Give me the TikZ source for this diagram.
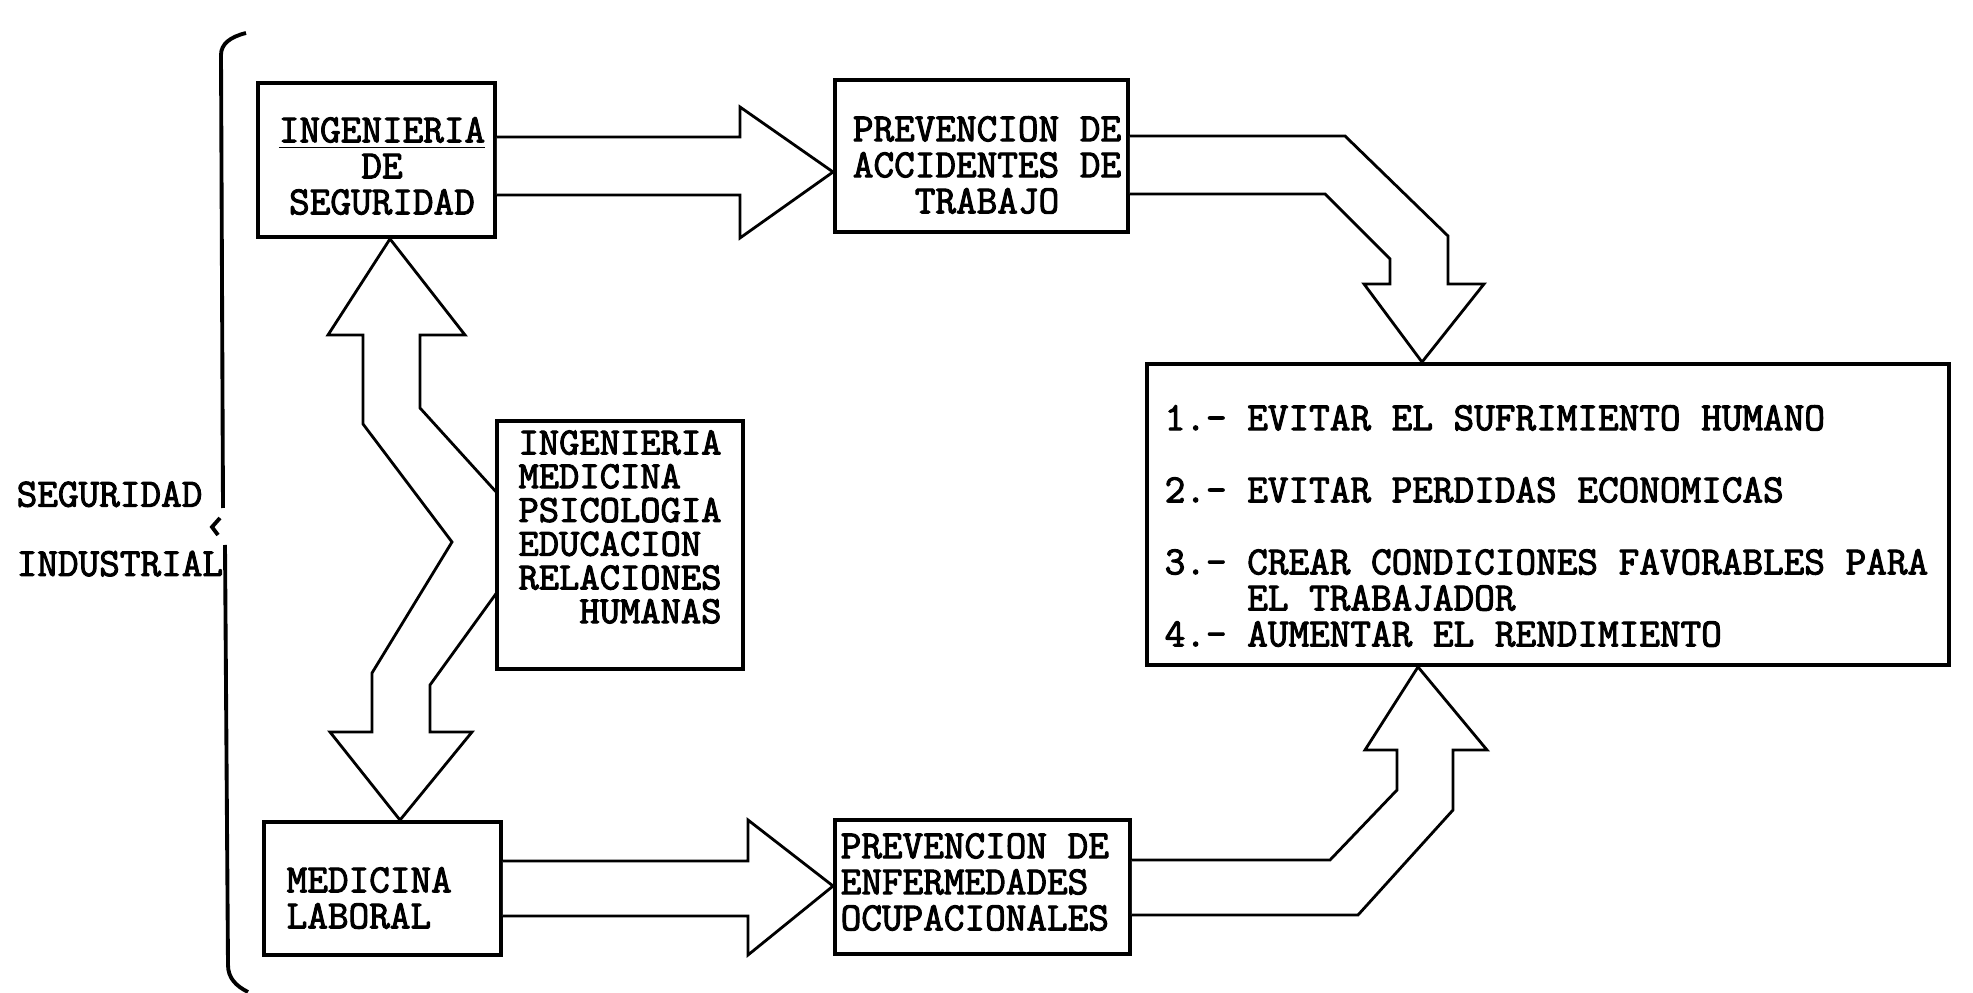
\documentclass[tikz,border=0pt]{standalone}
\usepackage{fontspec}
\newfontfamily\maquina{Latin Modern Mono}[FakeBold=2.5]
\usepackage{tikz}

\begin{document}
\begin{tikzpicture}[x=0.1mm,y=-0.1mm,
  caja/.style={draw,line width=1.1pt,fill=white,inner sep=0pt},
  flecha/.style={draw,line width=0.8pt,line join=miter,fill=white},
  texto/.style={inner sep=0pt,font=\maquina\fontsize{11.4}{10.25}\selectfont},
  textod/.style={inner sep=0pt,font=\maquina\fontsize{11}{9.6}\selectfont}]
\useasboundingbox (0,0) rectangle (1973,993);
% boxes
\node[caja,minimum width=23.7mm,minimum height=15.4mm] (seg) at (376.5,160) {};
\node[caja,minimum width=29.3mm,minimum height=15.2mm] (prevacc) at (981.5,156) {};
\node[caja,minimum width=80.2mm,minimum height=30.1mm] (obj) at (1548,514.5) {};
\node[caja,minimum width=23.7mm,minimum height=13.3mm] (med) at (382.5,888.5) {};
\node[caja,minimum width=29.5mm,minimum height=13.4mm] (prevenf) at (982.5,887) {};
% fat arrows
\draw[flecha] (seg.east |- 0,137) -- (740,137) -- (740,107) -- (prevacc.west |- 0,172)
  -- (740,238) -- (740,195) -- (seg.east |- 0,195);
\draw[flecha] (prevacc.east |- 0,136) -- (1345,136) -- (1448,236) -- (1448,284) -- (1484,284)
  -- (1422,0 |- obj.north) -- (1364,284) -- (1390,284) -- (1390,259) -- (1325,194)
  -- (prevacc.east |- 0,194);
\draw[flecha] (med.east |- 0,861) -- (748,861) -- (748,820) -- (prevenf.west |- 0,886)
  -- (748,955) -- (748,916) -- (med.east |- 0,916);
\draw[flecha] (prevenf.east |- 0,860) -- (1330,860) -- (1397,790) -- (1397,750) -- (1365,750)
  -- (1418,0 |- obj.south) -- (1487,750) -- (1453,750) -- (1453,810) -- (1358,915)
  -- (prevenf.east |- 0,915);
% double arrow, box in front of it
\draw[flecha] (390,0 |- seg.south) -- (465,335) -- (420,335) -- (420,408) -- (537,537)
  -- (430,685) -- (430,732) -- (472,732) -- (400,0 |- med.north) -- (330,732) -- (372,732)
  -- (372,673) -- (452,542) -- (363,424) -- (363,335) -- (328,335) -- cycle;
\node[caja,minimum width=24.6mm,minimum height=24.8mm] (disc) at (620,545) {};
% brace
\draw[line width=1.1pt] (246,33) .. controls (230,37) and (221,44) .. (221,55) -- (223,508);
\draw[line width=1.1pt] (220,518) -- (212,527) -- (218,535);
\draw[line width=1.1pt] (225,545) -- (228,965) .. controls (228,978) and (236,986) .. (248,992);
% texts
\node[texto,align=left,anchor=west] (titulo) at (16,529) {SEGURIDAD\\[9.5pt]INDUSTRIAL};
\node[texto,align=center] (segtxt) at (382,166) {\underline{INGENIERIA}\\DE\\SEGURIDAD};
\node[texto,align=center] (acctxt) at (987,165) {PREVENCION DE\\ACCIDENTES DE\\TRABAJO};
\node[textod,align=left] (disctxt) at (620,527)
  {INGENIERIA\\MEDICINA\\PSICOLOGIA\\EDUCACION\\RELACIONES\\\phantom{REL}HUMANAS};
\node[texto,align=left,anchor=west] (medtxt) at (286,898) {MEDICINA\\LABORAL};
\node[texto,align=left,anchor=west] (enftxt) at (840,882)
  {PREVENCION DE\\ENFERMEDADES\\OCUPACIONALES};
\node[texto,align=left,anchor=west] (objtxt) at (1164,526)
  {1.- EVITAR EL SUFRIMIENTO HUMANO\\[10.25pt]2.- EVITAR PERDIDAS ECONOMICAS\\[10.25pt]%
   3.- CREAR CONDICIONES FAVORABLES PARA\\\phantom{3.-X}EL TRABAJADOR\\4.- AUMENTAR EL RENDIMIENTO};
\end{tikzpicture}
\end{document}
